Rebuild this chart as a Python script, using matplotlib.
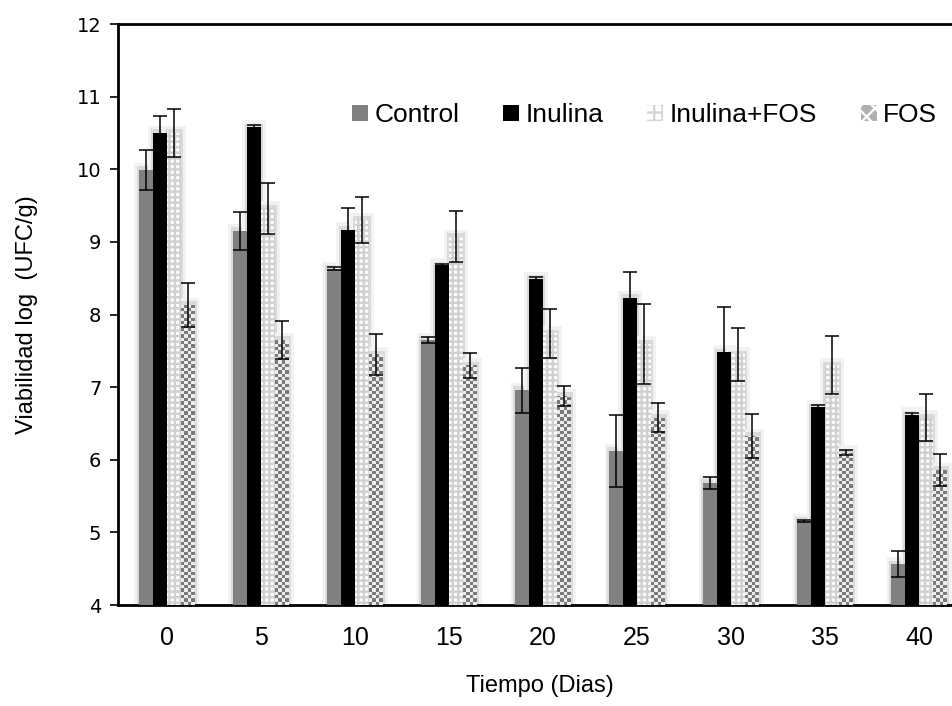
import numpy as np
import matplotlib
matplotlib.use("Agg")
from matplotlib import pyplot as plt
from matplotlib.patches import Patch
from matplotlib.colors import ListedColormap

plt.rcParams['font.family'] = ['Liberation Sans', 'DejaVu Sans']
plt.rcParams['hatch.linewidth'] = 1.7

# Viabilidad (log UFC/g) por dia
dias = ['0', '5', '10', '15', '20', '25', '30', '35', '40']
control = [9.99, 9.15, 8.63, 7.65, 6.96, 6.12, 5.68, 5.16, 4.56]
control_err = [0.28, 0.26, 0.02, 0.04, 0.31, 0.50, 0.08, 0.01, 0.18]
inulina = [10.50, 10.58, 9.17, 8.68, 8.49, 8.23, 7.48, 6.72, 6.62]
inulina_err = [0.24, 0.03, 0.30, 0.01, 0.02, 0.35, 0.63, 0.03, 0.03]
inul_fos = [10.50, 9.46, 9.30, 9.07, 7.74, 7.60, 7.45, 7.30, 6.58]
inul_fos_err = [0.33, 0.35, 0.32, 0.35, 0.34, 0.55, 0.37, 0.40, 0.32]
fos = [8.13, 7.65, 7.45, 7.30, 6.88, 6.58, 6.33, 6.10, 5.86]
fos_err = [0.30, 0.26, 0.28, 0.17, 0.14, 0.20, 0.30, 0.04, 0.22]

x = np.arange(len(dias))
w = 0.148
base = 4

fig = plt.figure(figsize=(9.52, 7.06), dpi=100)
ax = fig.add_axes([0.124, 0.143, 0.887, 0.823])

series = [(control, control_err), (inulina, inulina_err),
          (inul_fos, inul_fos_err), (fos, fos_err)]
offsets = [-1.5 * w, -0.5 * w, 0.5 * w, 1.5 * w]

# soft grey glow behind the bars (Excel soft edges)
for (vals, err), off in zip(series, offsets):
    h = np.array(vals) - base
    ax.bar(x + off, h + 0.10, width=w + 0.10, bottom=base, color='#f2f2f2', zorder=1)
    ax.bar(x + off, h + 0.05, width=w + 0.05, bottom=base, color='#dadada', zorder=1)

err_kw = dict(ecolor='black', elinewidth=1.1, capsize=5, capthick=1.1)

ax.bar(x + offsets[0], np.array(control) - base, width=w, bottom=base, color='#808080',
       yerr=control_err, error_kw=err_kw, zorder=3)
ax.bar(x + offsets[1], np.array(inulina) - base, width=w, bottom=base, color='black',
       yerr=inulina_err, error_kw=err_kw, zorder=3)
ax.bar(x + offsets[2], np.array(inul_fos) - base, width=w, bottom=base, color='white',
       edgecolor='#d0d0d0', hatch='+++', linewidth=0, yerr=inul_fos_err,
       error_kw=err_kw, zorder=3)
fos_bars = ax.bar(x + offsets[3], np.array(fos) - base, width=w, bottom=base,
                  color='white', linewidth=0, zorder=3)

# checkerboard fill for FOS bars
chk_cmap = ListedColormap(['#7a7a7a', '#ececec'])
sq = 0.046
for b in fos_bars:
    x0, y0 = b.get_x(), b.get_y()
    bw, bh = b.get_width(), b.get_height()
    nr = int(bh / sq) + 1
    nc = 4
    chk = np.add.outer(np.arange(nr), np.arange(nc)) % 2
    im = ax.imshow(chk, extent=(x0, x0 + bw, y0, y0 + nr * sq), origin='lower',
                   cmap=chk_cmap, vmin=0, vmax=1, interpolation='nearest',
                   aspect='auto', zorder=3.5)
    im.set_clip_path(b)
ax.errorbar(x + offsets[3], fos, yerr=fos_err, fmt='none', zorder=4, **err_kw)

ax.set_xlim(-0.52, 8.46)
ax.set_ylim(4, 12)
ax.set_yticks(range(4, 13))
ax.set_xticks(x)
ax.set_xticklabels(dias, fontsize=18)
ax.tick_params(axis='x', length=0, pad=15)
ax.tick_params(axis='y', length=6, width=1.2, direction='out', pad=6)
for lab in ax.get_yticklabels():
    lab.set_fontfamily('DejaVu Sans')
    lab.set_fontsize(14)

for s in ['left', 'bottom', 'top', 'right']:
    ax.spines[s].set_linewidth(2)
    ax.spines[s].set_color('black')

ax.set_ylabel('Viabilidad log  (UFC/g)', fontsize=17, labelpad=28)
ax.set_xlabel('Tiempo (Dias)', fontsize=17, labelpad=18)

handles = [Patch(facecolor='#808080'), Patch(facecolor='black'),
           Patch(facecolor='white', edgecolor='#d4d4d4', hatch='++', linewidth=0),
           Patch(facecolor='#b0b0b0', edgecolor='white', hatch='xx', linewidth=0)]
ax.legend(handles, ['Control', 'Inulina', 'Inulina+FOS', 'FOS'], ncol=4,
          frameon=False, fontsize=19, handlelength=0.6, handleheight=0.6,
          handletextpad=0.25, columnspacing=1.65, loc='center left',
          bbox_to_anchor=(0.262, 0.843), borderpad=0)

fig.savefig('out.png', dpi=100)
